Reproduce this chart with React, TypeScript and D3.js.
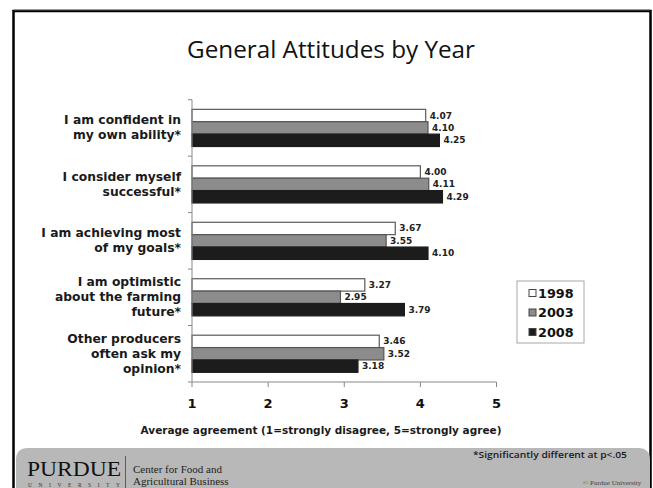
import React from "react";
import * as d3 from "d3";

// Survey statements (each entry holds the wrapped lines of one label)
const categories: string[][] = [
  ["I am confident in", "my own ability*"],
  ["I consider myself", "successful*"],
  ["I am achieving most", "of my goals*"],
  ["I am optimistic", "about the farming", "future*"],
  ["Other producers", "often ask my", "opinion*"],
];
const years = ["1998", "2003", "2008"];
const values1998 = [4.07, 4.0, 3.67, 3.27, 3.46];
const values2003 = [4.1, 4.11, 3.55, 2.95, 3.52];
const values2008 = [4.25, 4.29, 4.1, 3.79, 3.18];
const xTicks = [1, 2, 3, 4, 5];

const W = 653;
const H = 488;
const BOLD = "'DejaVu Sans', Verdana, sans-serif";
const fills: Record<string, string> = { "1998": "#ffffff", "2003": "#8c8c8c", "2008": "#1c1c1c" };
const strokes: Record<string, string> = { "1998": "#5a5a5a", "2003": "#555555", "2008": "#1c1c1c" };

export default function App() {
  const seriesByYear: Record<string, number[]> = {
    "1998": values1998,
    "2003": values2003,
    "2008": values2008,
  };
  const keys = categories.map((c) => c.join(" "));

  const x = d3.scaleLinear().domain([1, 5]).range([192, 496.5]);
  const y = d3.scaleBand<string>().domain(keys).range([99.7, 382]).padding(0);
  const yInner = d3
    .scaleBand<string>()
    .domain(years)
    .range([0, y.bandwidth()])
    .paddingInner(0)
    .paddingOuter(0.78);

  const x0 = x.range()[0];
  const [yTop, yBottom] = y.range();

  return (
    <svg
      width={W}
      height={H}
      style={{ position: "absolute", left: 0, top: 0, background: "#fff" }}
    >
      {/* slide frame */}
      <rect x={13.5} y={11} width={637} height={H} fill="#fff" stroke="#000" strokeWidth={2.5} />
      <line x1={14} x2={650} y1={9.8} y2={9.8} stroke="#8a8a8a" strokeWidth={1} />

      {/* title */}
      <text
        x={331}
        y={58}
        textAnchor="middle"
        fontFamily="'Open Sans', 'Noto Sans', sans-serif"
        fontSize={23}
        fill="#111"
        textLength={288}
        lengthAdjust="spacingAndGlyphs"
      >
        General Attitudes by Year
      </text>

      {/* bars */}
      {keys.map((k, i) => (
        <g key={k} transform={`translate(0,${y(k)})`}>
          {years.map((yr) => {
            const v = seriesByYear[yr][i];
            const by = yInner(yr)!;
            const bh = yInner.bandwidth();
            return (
              <g key={yr}>
                <rect
                  x={x0}
                  y={by}
                  width={x(v) - x0}
                  height={bh}
                  fill={fills[yr]}
                  stroke={strokes[yr]}
                  strokeWidth={1.2}
                />
                <text
                  x={x(v) + 4}
                  y={by + bh / 2}
                  dominantBaseline="central"
                  fontFamily={BOLD}
                  fontWeight="bold"
                  fontSize={9}
                  fill="#222"
                >
                  {v.toFixed(2)}
                </text>
              </g>
            );
          })}
        </g>
      ))}

      {/* y axis */}
      <line x1={x0} x2={x0} y1={yTop} y2={yBottom} stroke="#888" strokeWidth={1} />
      {[...keys.map((k) => y(k)!), yBottom].map((t, i) => (
        <line key={i} x1={x0 - 4} x2={x0} y1={t} y2={t} stroke="#888" strokeWidth={1} />
      ))}
      {categories.map((lines, i) => {
        const cy = y(keys[i])! + y.bandwidth() / 2;
        const lh = 15;
        const start = cy - ((lines.length - 1) * lh) / 2;
        return (
          <text
            key={i}
            textAnchor="end"
            fontFamily={BOLD}
            fontWeight="bold"
            fontSize={12.3}
            fill="#1a1a1a"
          >
            {lines.map((ln, j) => (
              <tspan key={j} x={181} y={start + j * lh} dominantBaseline="central">
                {ln}
              </tspan>
            ))}
          </text>
        );
      })}

      {/* x axis */}
      <line x1={x0} x2={x.range()[1]} y1={yBottom} y2={yBottom} stroke="#888" strokeWidth={1} />
      {xTicks.map((t) => (
        <g key={t}>
          <line x1={x(t)} x2={x(t)} y1={yBottom} y2={yBottom + 5} stroke="#888" strokeWidth={1} />
          <text
            x={x(t)}
            y={403}
            textAnchor="middle"
            dominantBaseline="central"
            fontFamily={BOLD}
            fontWeight="bold"
            fontSize={13}
            fill="#111"
          >
            {t}
          </text>
        </g>
      ))}
      <text
        x={321}
        y={430}
        textAnchor="middle"
        dominantBaseline="central"
        fontFamily={BOLD}
        fontWeight="bold"
        fontSize={10.5}
        fill="#1a1a1a"
      >
        Average agreement (1=strongly disagree, 5=strongly agree)
      </text>

      {/* legend */}
      <rect x={517} y={281} width={67} height={62} fill="#fff" stroke="#a8a8a8" strokeWidth={1} />
      {years.map((yr, i) => (
        <g key={yr} transform={`translate(529,${293 + i * 19.5})`}>
          <rect x={0} y={-3.5} width={7} height={7} fill={fills[yr]} stroke="#444" strokeWidth={1} />
          <text
            x={9}
            y={0}
            dominantBaseline="central"
            fontFamily={BOLD}
            fontWeight="bold"
            fontSize={12.8}
            fill="#111"
          >
            {yr}
          </text>
        </g>
      ))}

      {/* footer band */}
      <path
        d={`M16,${H + 2} L16,460 Q16,448 28,448 L638,448 Q650,448 650,460 L650,${H + 2} Z`}
        fill="#b8b8b8"
      />
      <text
        x={473}
        y={454}
        dominantBaseline="central"
        fontFamily="'Open Sans', 'Noto Sans', sans-serif"
        fontSize={9.6}
        fontWeight={600}
        fill="#1a1a1a"
        textLength={154}
        lengthAdjust="spacingAndGlyphs"
      >
        *Significantly different at p&lt;.05
      </text>
      <text
        x={27}
        y={476}
        fontFamily="'Liberation Serif', 'DejaVu Serif', serif"
        fontSize={21}
        fill="#111"
        textLength={94}
        lengthAdjust="spacingAndGlyphs"
      >
        PURDUE
      </text>
      <text
        x={28}
        y={487}
        fontFamily="'Liberation Serif', serif"
        fontSize={5.5}
        fill="#333"
        textLength={92}
        lengthAdjust="spacing"
      >
        UNIVERSITY
      </text>
      <line x1={125.5} x2={125.5} y1={456} y2={H} stroke="#444" strokeWidth={0.8} />
      <text x={133} y={473} fontFamily="'Liberation Serif', serif" fontSize={11} fill="#222">
        Center for Food and
      </text>
      <text x={133} y={485} fontFamily="'Liberation Serif', serif" fontSize={11} fill="#222">
        Agricultural Business
      </text>
      <text x={583} y={485} fontFamily="'Liberation Serif', serif" fontSize={7} fill="#444">
        © Purdue University
      </text>
    </svg>
  );
}
